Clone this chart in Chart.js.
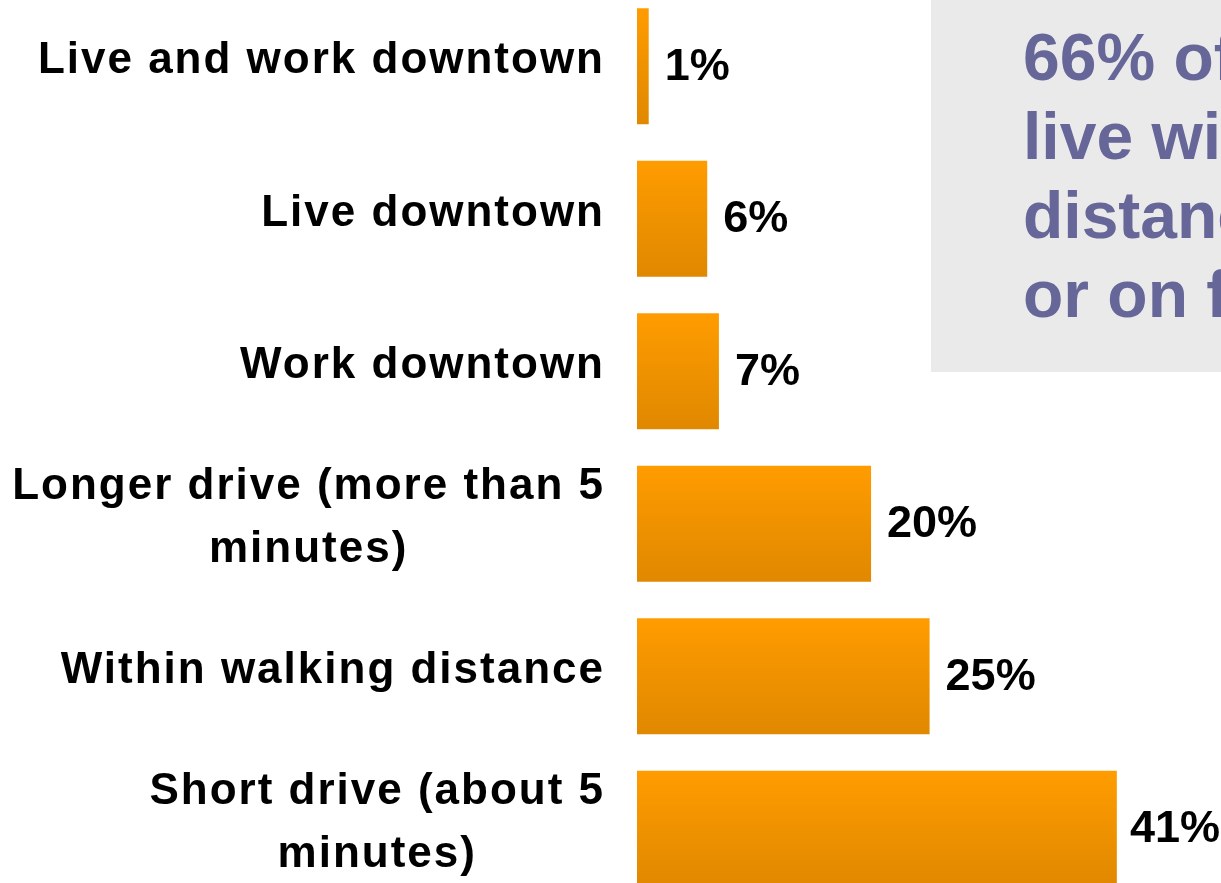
<!DOCTYPE html>
<html>
<head>
<meta charset="utf-8">
<script src="https://cdn.jsdelivr.net/npm/chart.js@4.4.0/dist/chart.umd.min.js"></script>
<style>
  html, body { margin: 0; padding: 0; background: #fff; overflow: hidden; }
  #wrap { position: relative; width: 1221px; height: 883px; overflow: hidden; }
  #chart { position: absolute; left: 0; top: -10px; }
</style>
</head>
<body>
<div id="wrap"><canvas id="chart" width="1221" height="915"></canvas></div>
<script>
const categories = [
  ['Live and work downtown'],
  ['Live downtown'],
  ['Work downtown'],
  ['Longer drive (more than 5', 'minutes)'],
  ['Within walking distance'],
  ['Short drive (about 5', 'minutes)'],
];
const shares = [1, 6, 7, 20, 25, 41];
const calloutLines = ['66% of visitors', 'live within driving', 'distance', 'or on foot'];

const FONT = "'Liberation Sans', Arial, sans-serif";
const OFFSET = 10; // canvas sits 10px above the window

// vertical orange gradient per bar
const barGradient = (context) => {
  const chart = context.chart;
  const y = chart.scales.y;
  if (!y || context.type !== 'data') return '#F39200';
  const center = y.getPixelForValue(context.dataIndex);
  const half = (y.height / categories.length) * 0.76 / 2;
  if (!Number.isFinite(center) || !Number.isFinite(half) || half <= 0) return '#F39200';
  const g = chart.ctx.createLinearGradient(0, center - half, 0, center + half);
  g.addColorStop(0, '#FF9C00');
  g.addColorStop(1, '#E08800');
  return g;
};

const labelsPlugin = {
  id: 'labels',
  afterDraw(chart) {
    const ctx = chart.ctx;
    const y = chart.scales.y;
    const meta = chart.getDatasetMeta(0);
    ctx.save();

    // callout box
    ctx.fillStyle = '#EAEAEA';
    ctx.fillRect(931, OFFSET, 300, 372);
    ctx.fillStyle = '#666699';
    ctx.font = `bold 66px ${FONT}`;
    ctx.textAlign = 'left';
    ctx.textBaseline = 'alphabetic';
    calloutLines.forEach((line, i) => ctx.fillText(line, 1023, OFFSET + 80 + i * 79));

    // category labels, lines centered, block right-aligned
    ctx.fillStyle = '#000';
    ctx.font = `bold 44px ${FONT}`;
    ctx.letterSpacing = '2px';
    ctx.textAlign = 'center';
    categories.forEach((lines, i) => {
      const c = y.getPixelForValue(i);
      const maxW = Math.max(...lines.map((l) => ctx.measureText(l).width - 2));
      const cx = 604 - maxW / 2;
      const first = c + 7 - (lines.length - 1) * 63 / 2;
      lines.forEach((l, j) => ctx.fillText(l, cx, first + j * 63));
    });

    // value labels, kept inside the frame
    ctx.letterSpacing = '0px';
    ctx.font = `bold 45px ${FONT}`;
    ctx.textAlign = 'left';
    meta.data.forEach((bar, i) => {
      const txt = shares[i] + '%';
      const w = ctx.measureText(txt).width;
      const x = Math.min(bar.x + 16, chart.chartArea.right - w - 1);
      ctx.fillText(txt, x, bar.y + 13.5);
    });
    ctx.restore();
  },
};

new Chart(document.getElementById('chart'), {
  type: 'bar',
  data: {
    labels: categories,
    datasets: [{
      data: shares,
      backgroundColor: barGradient,
      borderWidth: 0,
      categoryPercentage: 1,
      barPercentage: 0.76,
    }],
  },
  options: {
    indexAxis: 'y',
    responsive: false,
    animation: false,
    layout: { padding: 0 },
    plugins: { legend: { display: false }, tooltip: { enabled: false } },
    scales: {
      x: { display: false, min: 0, max: 49.9 },
      y: {
        grid: { display: false },
        border: { display: false },
        ticks: { display: false },
        afterFit: (scale) => { scale.width = 637; },
      },
    },
  },
  plugins: [labelsPlugin],
});
</script>
</body>
</html>
